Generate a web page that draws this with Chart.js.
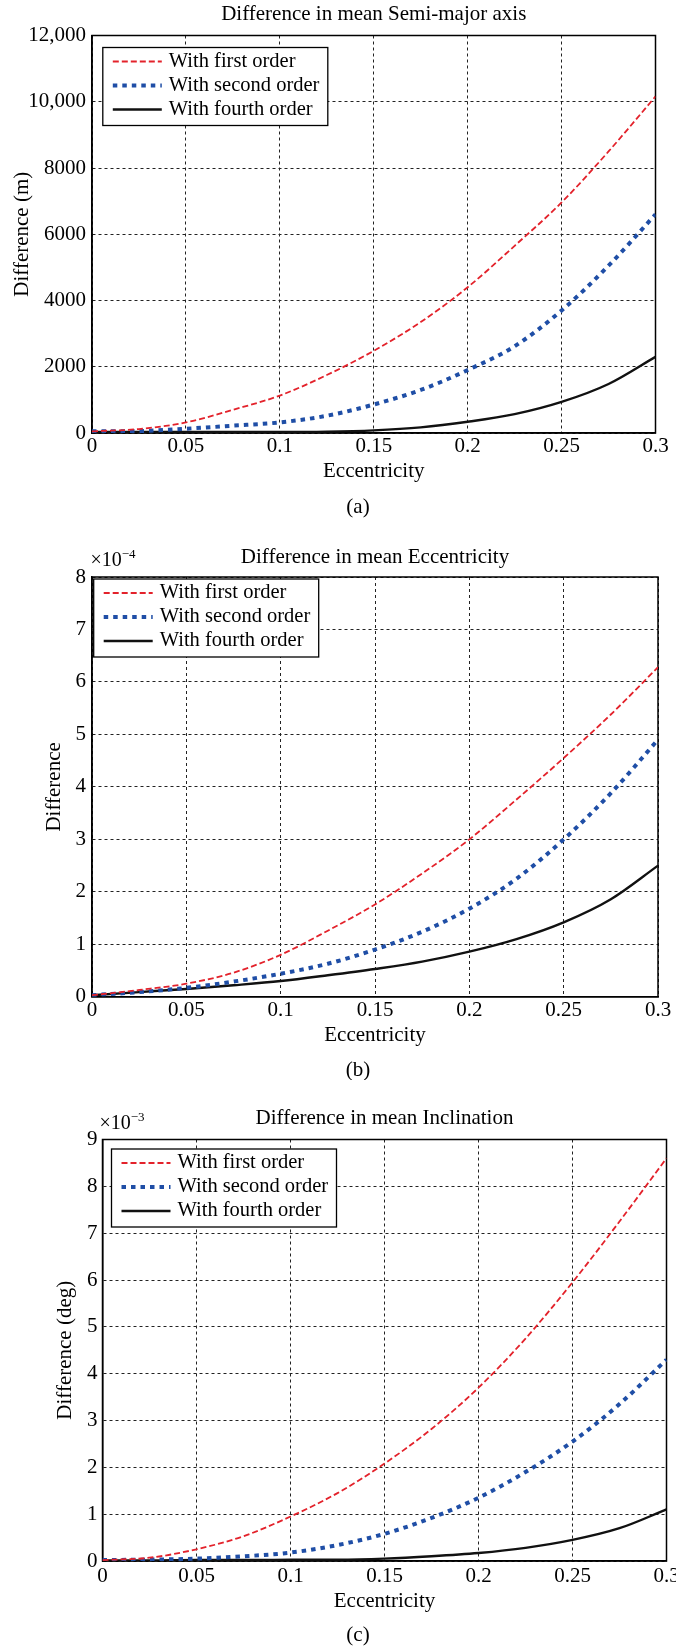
<!DOCTYPE html>
<html>
<head>
<meta charset="utf-8">
<script src="https://cdn.jsdelivr.net/npm/chart.js@4.4.1/dist/chart.umd.min.js"></script>
<style>
  body { margin: 0; background: #fff; }
  canvas { position: absolute; left: 0; }
</style>
</head>
<body>
<canvas id="chartA" width="676" height="520" style="top:0"></canvas>
<canvas id="chartB" width="676" height="560" style="top:520px"></canvas>
<canvas id="chartC" width="676" height="570" style="top:1080px"></canvas>
<script>
const ecc = [0, 0.025, 0.05, 0.075, 0.1, 0.125, 0.15, 0.175, 0.2, 0.225, 0.25, 0.275, 0.3];
const xTickLabels = ['0', '0.05', '0.1', '0.15', '0.2', '0.25', '0.3'];
const seriesNames = ['With first order', 'With second order', 'With fourth order'];

// (a) semi-major axis difference, m
const smaFirst  = [50, 120, 320, 700, 1130, 1750, 2480, 3350, 4400, 5650, 6960, 8500, 10160];
const smaSecond = [50, 60, 130, 220, 320, 520, 860, 1300, 1900, 2620, 3700, 5050, 6600];
const smaFourth = [30, 30, 30, 30, 30, 40, 80, 170, 340, 570, 940, 1480, 2300];
const smaTicks  = ['0', '2000', '4000', '6000', '8000', '10,000', '12,000'];

// (b) eccentricity difference, x 1e-4
const eccFirst  = [0.03, 0.13, 0.25, 0.46, 0.8, 1.26, 1.76, 2.35, 3.0, 3.76, 4.55, 5.38, 6.28];
const eccSecond = [0.03, 0.09, 0.17, 0.29, 0.44, 0.63, 0.9, 1.24, 1.68, 2.25, 3.0, 3.88, 4.9];
const eccFourth = [0.03, 0.09, 0.15, 0.22, 0.3, 0.41, 0.53, 0.67, 0.86, 1.1, 1.42, 1.86, 2.5];
const eccTicks  = ['0', '1', '2', '3', '4', '5', '6', '7', '8'];

// (c) inclination difference, deg x 1e-3
const incFirst  = [0.02, 0.07, 0.25, 0.53, 0.95, 1.45, 2.08, 2.82, 3.7, 4.75, 5.95, 7.25, 8.6];
const incSecond = [0.02, 0.03, 0.05, 0.1, 0.18, 0.34, 0.58, 0.92, 1.35, 1.9, 2.55, 3.35, 4.3];
const incFourth = [0.01, 0.01, 0.02, 0.02, 0.03, 0.03, 0.05, 0.1, 0.17, 0.28, 0.45, 0.7, 1.1];
const incTicks  = ['0', '1', '2', '3', '4', '5', '6', '7', '8', '9'];

const serif = "'Liberation Serif', 'Times New Roman', serif";
const ink = '#000';
const lineStyles = [
  { borderColor: '#e3222b', borderWidth: 1.8, borderDash: [6, 3] },
  { borderColor: '#1f4ea6', borderWidth: 4, borderDash: [4.5, 5] },
  { borderColor: '#111111', borderWidth: 2.4, borderDash: [] }
];

// box around the axes, legend, caption and exponent label
const decor = {
  id: 'decor',
  beforeDatasetsDraw(chart) {
    const a = chart.chartArea, ctx = chart.ctx;
    ctx.save();
    ctx.strokeStyle = ink;
    ctx.lineWidth = 1.5;
    ctx.strokeRect(a.left, a.top, a.right - a.left, a.bottom - a.top);
    ctx.restore();
  },
  afterDatasetsDraw(chart, args, o) {
    const a = chart.chartArea, ctx = chart.ctx;
    ctx.save();
    const bx = a.left + o.legendX, by = a.top + o.legendY;
    ctx.fillStyle = '#fff';
    ctx.fillRect(bx, by, 225, 78);
    ctx.strokeStyle = ink;
    ctx.lineWidth = 1.3;
    ctx.strokeRect(bx, by, 225, 78);
    chart.data.datasets.forEach((ds, i) => {
      const y = by + 14 + i * 24;
      ctx.strokeStyle = ds.borderColor;
      ctx.lineWidth = ds.borderWidth;
      ctx.setLineDash(ds.borderDash);
      ctx.beginPath();
      ctx.moveTo(bx + 10, y);
      ctx.lineTo(bx + 59, y);
      ctx.stroke();
      ctx.setLineDash([]);
      ctx.fillStyle = ink;
      ctx.font = '20.5px ' + serif;
      ctx.textAlign = 'left';
      ctx.textBaseline = 'middle';
      ctx.fillText(ds.label, bx + 66, y);
    });
    ctx.fillStyle = ink;
    ctx.textAlign = 'center';
    ctx.textBaseline = 'middle';
    ctx.font = '21px ' + serif;
    ctx.fillText(o.caption, 358, a.bottom + 74);
    if (o.exponent) {
      ctx.textAlign = 'left';
      ctx.textBaseline = 'alphabetic';
      ctx.font = '20px ' + serif;
      const x0 = a.left + o.expX;
      ctx.fillText('\u00d710', x0, a.top - 11);
      const w = ctx.measureText('\u00d710').width;
      ctx.font = '13px ' + serif;
      ctx.fillText(o.exponent, x0 + w, a.top - 19);
    }
    ctx.restore();
  }
};

function makeChart(id, cfg) {
  return new Chart(document.getElementById(id), {
    type: 'line',
    data: {
      datasets: cfg.series.map((vals, i) => Object.assign({
        label: seriesNames[i],
        data: ecc.map((e, j) => ({ x: e, y: vals[j] })),
        pointRadius: 0,
        fill: false,
        borderCapStyle: 'butt',
        cubicInterpolationMode: 'monotone'
      }, lineStyles[i]))
    },
    options: {
      responsive: false,
      animation: false,
      devicePixelRatio: 1,
      layout: { padding: { left: 0, top: 0, right: cfg.padRight, bottom: 0 } },
      plugins: {
        legend: { display: false },
        tooltip: { enabled: false },
        title: {
          display: true,
          text: cfg.title,
          fullSize: false,
          color: ink,
          font: { family: serif, size: 21, weight: 'normal' },
          padding: { top: cfg.titleTop, bottom: cfg.titleBottom }
        },
        decor: cfg.decor
      },
      scales: {
        x: {
          type: 'linear',
          min: 0,
          max: 0.3,
          ticks: {
            stepSize: 0.05,
            autoSkip: false,
            maxRotation: 0,
            color: ink,
            padding: cfg.xTickPad,
            font: { family: serif, size: 21 },
            callback: (v, i) => xTickLabels[i]
          },
          grid: { color: '#222', lineWidth: 1, drawTicks: false },
          border: { display: true, color: ink, width: 1.5, dash: [3, 3] },
          title: {
            display: true,
            text: 'Eccentricity',
            color: ink,
            font: { family: serif, size: 21 },
            padding: { top: 0, bottom: cfg.xTitlePad }
          },
          afterFit(s) { s.height = cfg.xHeight; s.paddingLeft = 0; s.paddingRight = 0; }
        },
        y: {
          min: 0,
          max: cfg.yMax,
          ticks: {
            stepSize: cfg.yStep,
            color: ink,
            padding: cfg.yTickPad,
            font: { family: serif, size: 21 },
            callback: (v, i) => cfg.yLabels[i]
          },
          grid: { color: '#222', lineWidth: 1, drawTicks: false },
          border: { display: true, color: ink, width: 1.5, dash: [3, 3] },
          title: {
            display: true,
            text: cfg.yTitle,
            color: ink,
            font: { family: serif, size: 21 },
            padding: { top: cfg.yTitlePad, bottom: 0 }
          },
          afterFit(s) { s.width = cfg.yWidth; }
        }
      }
    },
    plugins: [decor]
  });
}

makeChart('chartA', {
  series: [smaFirst, smaSecond, smaFourth],
  title: 'Difference in mean Semi-major axis',
  yTitle: 'Difference (m)',
  yMax: 12000, yStep: 2000, yLabels: smaTicks,
  padRight: 20.5, yWidth: 92, xHeight: 87,
  titleTop: 1.4, titleBottom: 8.9,
  xTickPad: 0.5, xTitlePad: 36.4, yTickPad: 6, yTitlePad: 9.8,
  decor: { legendX: 10.8, legendY: 12, caption: '(a)' }
});

makeChart('chartB', {
  series: [eccFirst, eccSecond, eccFourth],
  title: 'Difference in mean Eccentricity',
  yTitle: 'Difference',
  yMax: 8, yStep: 1, yLabels: eccTicks,
  padRight: 18, yWidth: 92, xHeight: 83.2,
  titleTop: 24.9, titleBottom: 6.9,
  xTickPad: 1.5, xTitlePad: 32.4, yTickPad: 6, yTitlePad: 41.4,
  decor: { legendX: 1.7, legendY: 2, caption: '(b)', exponent: '\u22124', expX: -1.5 }
});

makeChart('chartC', {
  series: [incFirst, incSecond, incFourth],
  title: 'Difference in mean Inclination',
  yTitle: 'Difference (deg)',
  yMax: 9, yStep: 1, yLabels: incTicks,
  padRight: 9.5, yWidth: 102.5, xHeight: 89,
  titleTop: 25.4, titleBottom: 8.9,
  xTickPad: 3, xTitlePad: 36.4, yTickPad: 5, yTitlePad: 52.4,
  decor: { legendX: 9, legendY: 9.5, caption: '(c)', exponent: '\u22123', expX: -3 }
});
</script>
</body>
</html>
